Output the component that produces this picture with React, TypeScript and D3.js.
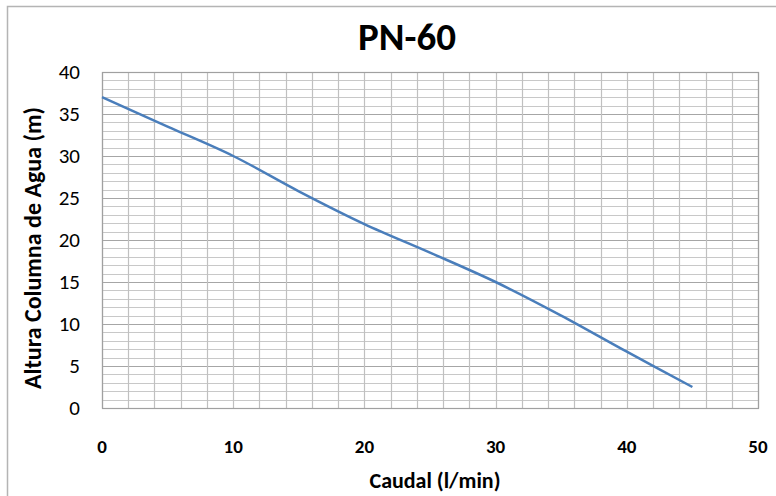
import React from "react";
import * as d3 from "d3";

const flowValues = [0, 5, 10, 15, 20, 25, 30, 35, 40, 45];
const headValues = [37, 33.5, 30, 25.8, 21.9, 18.5, 15.0, 11.0, 6.7, 2.5];
const xTicks = [0, 10, 20, 30, 40, 50];
const yTicks = [0, 5, 10, 15, 20, 25, 30, 35, 40];
const title = "PN-60";
const xTitle = "Caudal (l/min)";
const yTitle = "Altura Columna de Agua (m)";

const W = 776;
const H = 496;
const M = { left: 102, right: 758, top: 72, bottom: 408 };
const FONT = "Carlito, Calibri, Lato, 'Open Sans', sans-serif";

export default function App() {
  const x = d3.scaleLinear().domain([0, 50]).range([M.left, M.right]);
  const y = d3.scaleLinear().domain([0, 40]).range([M.bottom, M.top]);
  const xMinor = d3.range(0, 51, 2);
  const yMinor = d3.range(0, 41, 1);
  const data = flowValues.map((f, i) => [f, headValues[i]] as [number, number]);
  const line = d3
    .line<[number, number]>()
    .x((d) => x(d[0]))
    .y((d) => y(d[1]))
    .curve(d3.curveCatmullRom.alpha(0.5));

  return (
    <svg
      width={W}
      height={H}
      style={{ position: "absolute", left: 0, top: 0, background: "#fff" }}
      fontFamily={FONT}
    >
      <rect x={0} y={0} width={W} height={H} fill="#fff" />
      <rect x={7.5} y={6.5} width={W + 20} height={H + 20} fill="none" stroke="#b4b4b4" strokeWidth={1.5} />
      <text x={407} y={50} textAnchor="middle" fontSize={39} fontWeight="bold" fill="#000">
        {title}
      </text>
      <g>
        {yMinor.map((v) => (
          <line
            key={"y" + v}
            x1={M.left}
            x2={M.right}
            y1={Math.round(y(v)) + 0.5}
            y2={Math.round(y(v)) + 0.5}
            stroke={v % 5 === 0 ? "#a6a6a6" : "#c8c8c8"}
            strokeWidth={1.2}
          />
        ))}
        {xMinor.map((v) => (
          <line
            key={"x" + v}
            y1={M.top}
            y2={M.bottom}
            x1={Math.round(x(v)) + 0.5}
            x2={Math.round(x(v)) + 0.5}
            stroke="#c0c0c0"
            strokeWidth={1.2}
          />
        ))}
        <rect
          x={M.left + 0.5}
          y={M.top + 0.5}
          width={M.right - M.left}
          height={M.bottom - M.top}
          fill="none"
          stroke="#a0a0a0"
          strokeWidth={1.2}
        />
      </g>
      <path d={line(data) || ""} fill="none" stroke="#4a7ebb" strokeWidth={2.5} />
      {yTicks.map((v) => (
        <text key={"yt" + v} x={80} y={y(v) + 7} textAnchor="end" fontSize={21} fill="#000">
          {v}
        </text>
      ))}
      {xTicks.map((v) => (
        <text key={"xt" + v} x={x(v)} y={453} textAnchor="middle" fontSize={19} fontWeight="bold" fill="#000">
          {v}
        </text>
      ))}
      <text x={435} y={488} textAnchor="middle" fontSize={22} fontWeight="bold" fill="#000">
        {xTitle}
      </text>
      <text
        transform={`translate(41, 248) rotate(-90)`}
        textAnchor="middle"
        fontSize={24}
        fontWeight="bold"
        fill="#000"
      >
        {yTitle}
      </text>
    </svg>
  );
}
